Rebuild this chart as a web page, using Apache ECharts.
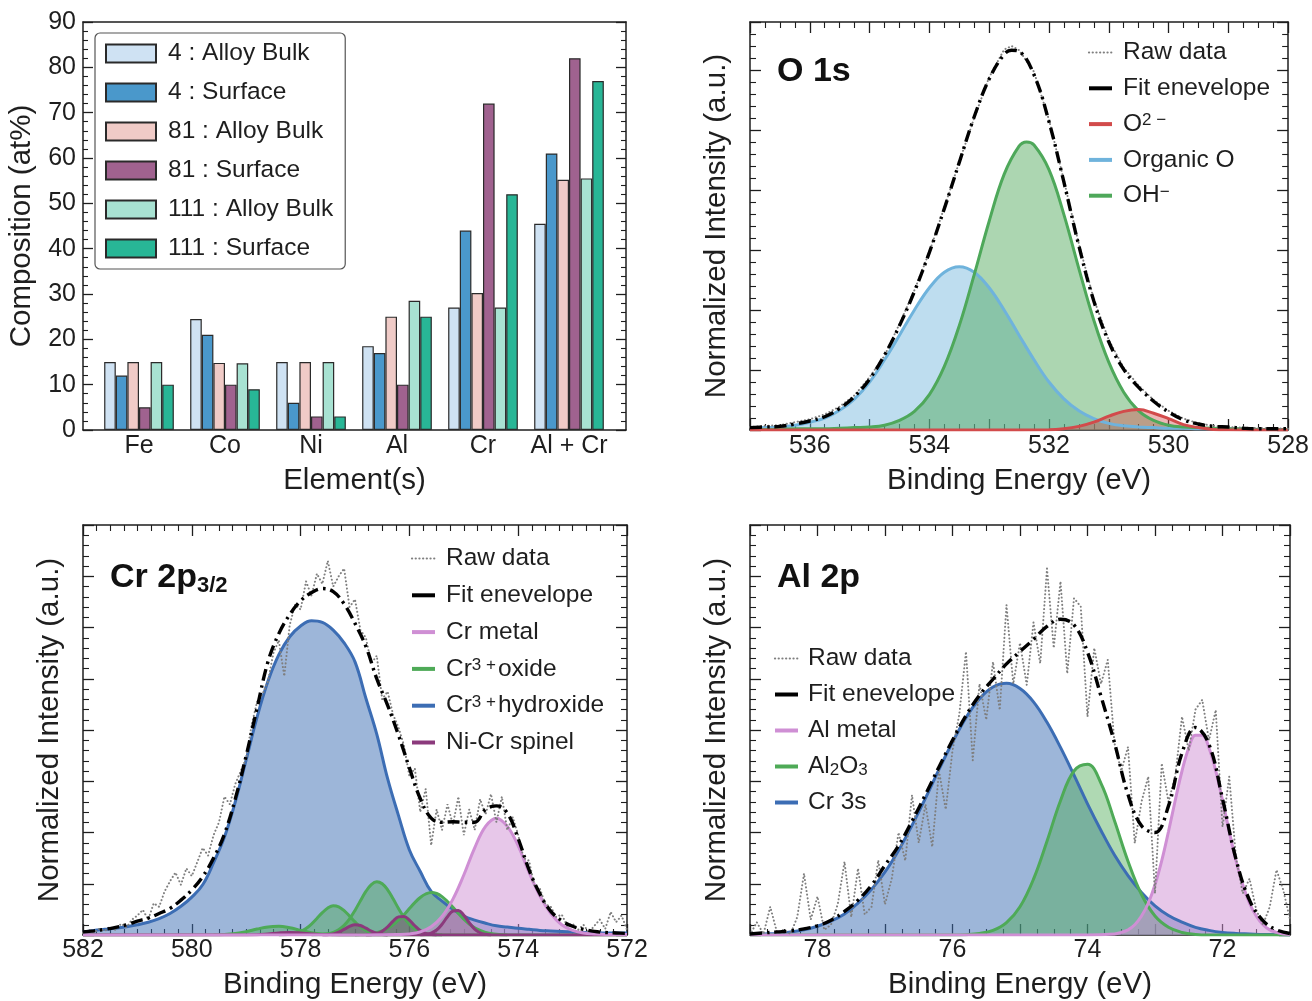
<!DOCTYPE html>
<html><head><meta charset="utf-8">
<script src="https://cdn.jsdelivr.net/npm/echarts@6/dist/echarts.min.js"></script>
<style>html,body{margin:0;padding:0;background:#fff}#c{width:1312px;height:1001px}</style>
</head><body><div id="c"></div>
<script>
// ---------------- DATA ----------------
// Panel (a): composition bars
const categories = ['Fe', 'Co', 'Ni', 'Al', 'Cr', 'Al + Cr'];
const barNames = ['4 : Alloy Bulk', '4 : Surface', '81 : Alloy Bulk', '81 : Surface', '111 : Alloy Bulk', '111 : Surface'];
const bulk4   = [15, 24.5, 15, 18.5, 27, 45.5];
const surf4   = [12, 21, 6, 17, 44, 61];
const bulk81  = [15, 14.8, 15, 25, 30.2, 55.2];
const surf81  = [5, 10, 3, 10, 72, 82];
const bulk111 = [15, 14.7, 15, 28.5, 27, 55.5];
const surf111 = [10, 9, 3, 25, 52, 77];

// Panel (b): O 1s  [binding energy, intensity]
const o1sOrganic = [[537,0.03],[536.75,0.04],[536.5,0.05],[536.25,0.08],[536,0.13],[535.75,0.20],[535.5,0.33],[535.25,0.52],[535,0.80],[534.75,1.17],[534.5,1.58],[534.25,2.00],[534,2.37],[533.75,2.63],[533.5,2.72],[533.25,2.63],[533,2.37],[532.75,2.00],[532.5,1.58],[532.25,1.17],[532,0.80],[531.75,0.52],[531.5,0.32],[531.25,0.19],[531,0.11],[530.75,0.07],[530.5,0.05],[530.25,0.04],[530,0.03],[529.75,0.03],[529.5,0.02],[529.25,0.02],[529,0.02],[528.75,0.01],[528.5,0.01],[528.25,0.01],[528,0.01]];
const o1sOH = [[537,0.01],[536.75,0.01],[536.5,0.01],[536.25,0.02],[536,0.02],[535.75,0.02],[535.5,0.03],[535.25,0.04],[535,0.05],[534.75,0.08],[534.5,0.16],[534.25,0.31],[534,0.59],[533.75,1.06],[533.5,1.74],[533.25,2.59],[533,3.48],[532.75,4.26],[532.5,4.73],[532.375,4.80],[532.25,4.75],[532,4.34],[531.75,3.59],[531.5,2.69],[531.25,1.83],[531,1.13],[530.75,0.63],[530.5,0.32],[530.25,0.16],[530,0.08],[529.75,0.05],[529.5,0.04],[529.25,0.03],[529,0.02],[528.75,0.02],[528.5,0.01],[528.25,0.01],[528,0.01]];
const o1sO2 = [[537,0],[533,0],[532,0.003],[531.75,0.02],[531.5,0.06],[531.25,0.13],[531,0.23],[530.75,0.31],[530.5,0.34],[530.25,0.28],[530,0.19],[529.75,0.09],[529.5,0.04],[529.25,0.01],[529,0.003],[528,0]];
const o1sEnv = [[537,0.04],[536.75,0.05],[536.5,0.06],[536.25,0.10],[536,0.15],[535.75,0.22],[535.5,0.36],[535.25,0.56],[535,0.85],[534.75,1.25],[534.5,1.74],[534.25,2.31],[534,2.96],[533.75,3.69],[533.5,4.46],[533.25,5.22],[533,5.85],[532.75,6.26],[532.625,6.33],[532.5,6.31],[532.25,5.92],[532,5.14],[531.75,4.13],[531.5,3.07],[531.25,2.15],[531,1.47],[530.75,1.01],[530.5,0.71],[530.25,0.48],[530,0.30],[529.75,0.17],[529.5,0.10],[529.25,0.06],[529,0.05],[528.75,0.03],[528.5,0.02],[528.25,0.02],[528,0.02]];
const o1sRaw = [[537,0.05],[536.75,0.07],[536.5,0.08],[536.25,0.13],[536,0.18],[535.75,0.26],[535.5,0.39],[535.25,0.58],[535,0.88],[534.75,1.24],[534.5,1.77],[534.25,2.33],[534,2.97],[533.75,3.71],[533.5,4.47],[533.25,5.20],[533,5.88],[532.75,6.34],[532.625,6.40],[532.5,6.33],[532.25,5.97],[532,5.17],[531.75,4.16],[531.5,3.10],[531.25,2.18],[531,1.50],[530.75,1.04],[530.5,0.74],[530.25,0.50],[530,0.32],[529.75,0.19],[529.5,0.11],[529.25,0.07],[529,0.05],[528.75,0.04],[528.5,0.03],[528.25,0.03],[528,0.02]];

// Panel (c): Cr 2p3/2
const crHydroxide = [[582,0.06],[581.8,0.09],[581.6,0.11],[581.4,0.13],[581.2,0.16],[581,0.20],[580.8,0.25],[580.6,0.32],[580.4,0.42],[580.2,0.56],[580,0.74],[579.8,0.98],[579.6,1.41],[579.4,1.91],[579.2,2.60],[579,3.42],[578.8,4.25],[578.6,4.95],[578.4,5.47],[578.2,5.82],[578,6.03],[577.8,6.13],[577.6,6.10],[577.4,5.95],[577.2,5.70],[577,5.33],[576.8,4.62],[576.6,3.92],[576.4,3.05],[576.2,2.33],[576,1.66],[575.8,1.24],[575.6,0.85],[575.4,0.66],[575.2,0.50],[575,0.37],[574.8,0.29],[574.6,0.23],[574.4,0.18],[574.2,0.155],[574,0.13],[573.8,0.11],[573.6,0.09],[573.4,0.08],[573.2,0.07],[573,0.06],[572.8,0.05],[572.6,0.05],[572.4,0.04],[572.2,0.04],[572,0.04]];
const crMetal = [[582,0],[577,0],[576.2,0.01],[576,0.02],[575.8,0.06],[575.6,0.16],[575.4,0.36],[575.2,0.70],[575,1.17],[574.8,1.70],[574.6,2.12],[574.4,2.28],[574.2,2.12],[574,1.74],[573.8,1.22],[573.6,0.76],[573.4,0.42],[573.2,0.20],[573,0.09],[572.8,0.04],[572.6,0.02],[572.4,0.01],[572,0.01]];
const crOxideA = [[582,0],[580.5,0],[579.6,0.003],[579.4,0.01],[579.2,0.03],[579,0.066],[578.8,0.116],[578.6,0.158],[578.4,0.169],[578.2,0.14],[578,0.09],[577.8,0.045],[577.6,0.018],[577.4,0.005],[577.2,0],[572,0]];
const crOxideB = [[578.4,0],[578.2,0.014],[578.1,0.032],[578,0.067],[577.9,0.127],[577.8,0.214],[577.7,0.323],[577.6,0.436],[577.5,0.526],[577.4,0.57],[577.3,0.55],[577.2,0.476],[577.1,0.369],[577,0.256],[576.9,0.158],[576.8,0.088],[576.7,0.044],[576.6,0.019],[576.5,0.008],[576.4,0]];
const crOxideC = [[577.8,0],[577.6,0.01],[577.5,0.023],[577.4,0.051],[577.3,0.103],[577.2,0.188],[577.1,0.315],[577,0.48],[576.9,0.669],[576.8,0.85],[576.7,0.984],[576.6,1.04],[576.5,1.0],[576.4,0.88],[576.3,0.707],[576.2,0.517],[576.1,0.345],[576,0.21],[575.9,0.117],[575.8,0.059],[575.7,0.027],[575.6,0.011],[575.4,0]];
const crOxideD = [[577,0],[576.8,0.013],[576.7,0.025],[576.6,0.046],[576.5,0.079],[576.4,0.129],[576.3,0.199],[576.2,0.289],[576.1,0.397],[576,0.516],[575.9,0.632],[575.8,0.732],[575.7,0.80],[575.6,0.83],[575.5,0.81],[575.4,0.749],[575.3,0.654],[575.2,0.539],[575.1,0.42],[575,0.31],[574.9,0.215],[574.8,0.141],[574.7,0.088],[574.6,0.051],[574.5,0.029],[574.4,0.015],[574.2,0]];
const crSpinel0 = [[582,0],[579.2,0],[578.8,0.005],[578.6,0.02],[578.4,0.04],[578.2,0.05],[578,0.04],[577.8,0.02],[577.6,0.005],[577.4,0],[572,0]];
const crSpinel1 = [[577.6,0],[577.5,0.007],[577.4,0.022],[577.3,0.056],[577.2,0.109],[577.1,0.167],[577,0.2],[576.9,0.185],[576.8,0.133],[576.7,0.075],[576.6,0.033],[576.5,0.011],[576.4,0]];
const crSpinel2 = [[576.8,0],[576.7,0.007],[576.6,0.026],[576.5,0.073],[576.4,0.159],[576.3,0.269],[576.2,0.354],[576.1,0.363],[576,0.29],[575.9,0.18],[575.8,0.087],[575.7,0.033],[575.6,0.01],[575.5,0]];
const crSpinel3 = [[575.8,0],[575.7,0.01],[575.6,0.035],[575.5,0.097],[575.4,0.21],[575.3,0.356],[575.2,0.468],[575.1,0.48],[575,0.384],[574.9,0.239],[574.8,0.116],[574.7,0.044],[574.6,0.013],[574.5,0]];
const crEnv = [[582,0.06],[581.8,0.08],[581.6,0.11],[581.4,0.15],[581.2,0.20],[581,0.27],[580.8,0.33],[580.6,0.42],[580.4,0.52],[580.2,0.68],[580,0.88],[579.8,1.14],[579.6,1.50],[579.4,1.97],[579.2,2.66],[579,3.50],[578.8,4.43],[578.6,5.33],[578.4,5.88],[578.2,6.25],[578,6.52],[577.8,6.68],[577.6,6.76],[577.4,6.70],[577.2,6.46],[577,6.08],[576.8,5.63],[576.6,5.00],[576.4,4.48],[576.2,3.90],[576,3.26],[575.8,2.66],[575.6,2.28],[575.4,2.20],[575.2,2.21],[575,2.20],[574.8,2.20],[574.6,2.45],[574.4,2.52],[574.2,2.38],[574,1.88],[573.8,1.27],[573.6,0.80],[573.4,0.46],[573.2,0.28],[573,0.17],[572.8,0.11],[572.6,0.07],[572.4,0.05],[572.2,0.04],[572,0.03]];
const crRaw = [[582,0.04],[581.9,0.10],[581.8,0.05],[581.7,0.12],[581.6,0.08],[581.5,0.16],[581.4,0.10],[581.3,0.22],[581.2,0.15],[581.1,0.30],[581,0.38],[580.9,0.49],[580.8,0.30],[580.7,0.62],[580.6,0.55],[580.5,0.85],[580.4,1.05],[580.3,1.22],[580.2,0.98],[580.1,1.30],[580,1.15],[579.9,1.42],[579.8,1.70],[579.7,1.55],[579.6,1.95],[579.5,2.20],[579.4,2.70],[579.3,2.55],[579.2,2.95],[579.1,3.20],[579,3.45],[578.9,4.10],[578.8,4.55],[578.7,4.70],[578.6,4.95],[578.5,5.50],[578.4,5.75],[578.3,5.05],[578.2,6.05],[578.1,6.45],[578,6.35],[577.9,6.90],[577.8,6.62],[577.7,7.05],[577.6,6.85],[577.5,7.30],[577.4,6.80],[577.3,7.00],[577.2,7.15],[577.1,6.40],[577,6.55],[576.9,5.95],[576.8,5.80],[576.7,5.30],[576.6,5.45],[576.5,4.60],[576.4,4.75],[576.3,4.30],[576.2,4.05],[576.1,3.70],[576,3.10],[575.9,3.25],[575.8,2.40],[575.7,2.85],[575.6,1.75],[575.5,2.45],[575.4,2.05],[575.3,2.55],[575.2,2.15],[575.1,2.70],[575,1.95],[574.9,2.45],[574.8,2.05],[574.7,2.65],[574.6,2.35],[574.5,2.75],[574.4,2.20],[574.3,2.70],[574.2,2.05],[574.1,2.30],[574,1.95],[573.9,1.50],[573.8,1.45],[573.7,0.95],[573.6,0.90],[573.5,0.60],[573.4,0.55],[573.3,0.35],[573.2,0.40],[573.1,0.18],[573,0.22],[572.9,0.10],[572.8,0.20],[572.7,0.05],[572.6,0.18],[572.5,0.30],[572.4,0.12],[572.3,0.45],[572.2,0.25],[572.1,0.38],[572,0.10]];

// Panel (d): Al 2p
const alCr3s = [[79,0.01],[78.8,0.02],[78.6,0.03],[78.4,0.06],[78.2,0.10],[78,0.17],[77.8,0.27],[77.6,0.41],[77.4,0.62],[77.2,0.89],[77,1.23],[76.8,1.65],[76.6,2.14],[76.4,2.67],[76.2,3.23],[76,3.76],[75.8,4.24],[75.6,4.61],[75.4,4.84],[75.2,4.91],[75,4.81],[74.8,4.55],[74.6,4.15],[74.4,3.66],[74.2,3.12],[74,2.56],[73.8,2.04],[73.6,1.56],[73.4,1.16],[73.2,0.83],[73,0.57],[72.8,0.38],[72.6,0.25],[72.4,0.15],[72.2,0.09],[72,0.05],[71.8,0.03],[71.6,0.02],[71.4,0.01],[71.2,0.01],[71,0]];
const alOxide = [[79,0],[76,0],[75.8,0.007],[75.6,0.03],[75.4,0.09],[75.2,0.24],[75,0.55],[74.8,1.09],[74.6,1.83],[74.4,2.62],[74.2,3.20],[74,3.33],[73.8,2.96],[73.6,2.23],[73.4,1.44],[73.2,0.79],[73,0.37],[72.8,0.15],[72.6,0.05],[72.4,0.01],[72.2,0],[71,0]];
const alMetal = [[79,0],[74,0],[73.6,0.02],[73.5,0.05],[73.4,0.10],[73.3,0.20],[73.2,0.37],[73.1,0.62],[73,0.98],[72.9,1.45],[72.8,2.02],[72.7,2.63],[72.6,3.20],[72.5,3.65],[72.4,3.90],[72.3,3.90],[72.2,3.65],[72.1,3.20],[72,2.63],[71.9,2.02],[71.8,1.45],[71.7,0.98],[71.6,0.62],[71.5,0.37],[71.4,0.20],[71.3,0.10],[71.2,0.05],[71.1,0.02],[71,0.01]];
const alEnv = [[79,0.02],[78.8,0.04],[78.6,0.06],[78.4,0.08],[78.2,0.12],[78,0.18],[77.8,0.29],[77.6,0.46],[77.4,0.68],[77.2,0.97],[77,1.36],[76.8,1.74],[76.6,2.22],[76.4,2.74],[76.2,3.28],[76,3.80],[75.8,4.28],[75.6,4.68],[75.4,4.99],[75.2,5.29],[75,5.53],[74.8,5.77],[74.6,6.02],[74.4,6.16],[74.2,6.05],[74,5.52],[73.8,4.66],[73.6,3.75],[73.4,2.74],[73.2,2.13],[73,2.00],[72.8,2.52],[72.6,3.55],[72.4,4.05],[72.2,3.72],[72,2.66],[71.8,1.48],[71.6,0.68],[71.4,0.28],[71.2,0.10],[71,0.03]];
const alRaw = [[79,0],[78.9,0.25],[78.8,0.02],[78.7,0.55],[78.6,0.05],[78.5,0.10],[78.4,0.02],[78.3,0.35],[78.2,1.20],[78.1,0.30],[78,0.75],[77.9,0.10],[77.8,0.20],[77.7,0.60],[77.6,1.43],[77.5,0.35],[77.4,1.30],[77.3,0.40],[77.2,0.55],[77.1,1.46],[77,0.60],[76.9,1.10],[76.8,2.00],[76.7,1.45],[76.6,2.73],[76.5,1.80],[76.4,2.55],[76.3,1.72],[76.2,3.20],[76.1,2.45],[76,3.60],[75.9,4.30],[75.8,5.53],[75.7,3.41],[75.6,4.90],[75.5,4.20],[75.4,5.33],[75.3,4.39],[75.2,6.44],[75.1,4.90],[75,5.70],[74.9,4.88],[74.8,6.10],[74.7,5.30],[74.6,7.15],[74.5,5.60],[74.4,6.90],[74.3,5.10],[74.2,6.57],[74.1,6.41],[74,4.26],[73.9,5.60],[73.8,4.90],[73.7,5.37],[73.6,3.74],[73.5,3.20],[73.4,3.67],[73.3,1.79],[73.2,2.60],[73.1,3.09],[73,0.81],[72.9,3.35],[72.8,2.60],[72.7,3.10],[72.6,4.26],[72.5,3.60],[72.4,4.40],[72.3,4.59],[72.2,3.80],[72.1,4.39],[72,2.11],[71.9,3.09],[71.8,1.50],[71.7,0.81],[71.6,1.10],[71.5,0.49],[71.4,0.20],[71.3,0.55],[71.2,1.27],[71.1,0.88],[71,0.30]];

// ---------------- STYLE HELPERS ----------------
const FONT = '"Liberation Sans", Arial, Helvetica, sans-serif';
const INK = '#1e1e1e';
const TICK_FS = 25, NAME_FS = 29.5, LEG_FS = 24.5;
function merge(a, b) {
  const out = Object.assign({}, a);
  for (const k in b) {
    if (b[k] && typeof b[k] === 'object' && !Array.isArray(b[k]) && a && a[k] && typeof a[k] === 'object') out[k] = merge(a[k], b[k]);
    else out[k] = b[k];
  }
  return out;
}
const baseAxis = {
  type: 'value',
  splitLine: { show: false },
  axisLine: { show: true, onZero: false, lineStyle: { color: INK, width: 1.5 } },
  axisTick: { show: true, inside: true, length: 11, lineStyle: { color: INK, width: 1.3 } },
  minorTick: { show: true, splitNumber: 4, length: 6, lineStyle: { color: INK, width: 1.1 } },
  axisLabel: { show: false, color: INK, fontSize: TICK_FS, fontFamily: FONT },
  nameTextStyle: { color: INK, fontSize: NAME_FS, fontFamily: FONT }
};
const ax = o => merge(baseAxis, o);
const evenOnly = v => (Math.abs(v - Math.round(v)) < 1e-6 && Math.round(v) % 2 === 0 ? String(Math.round(v)) : '');
const beName = 'Binding Energy (eV)';
const niName = 'Normalized Intensity (a.u.)';

function comp(name, data, idx, color, alpha) {
  return { type: 'line', name, data, xAxisIndex: idx, yAxisIndex: idx, symbol: 'none', smooth: 0.4,
    lineStyle: { color, width: 3 }, itemStyle: { color },
    areaStyle: { color, opacity: alpha }, silent: true };
}
function raw(data, idx) {
  return { type: 'line', name: 'Raw data', data, xAxisIndex: idx, yAxisIndex: idx, symbol: 'none',
    lineStyle: { color: '#7f7f7f', width: 2, type: [0.1, 3.6], cap: 'round' }, itemStyle: { color: '#7f7f7f' }, silent: true };
}
function env(data, idx) {
  return { type: 'line', name: 'Fit enevelope', data, xAxisIndex: idx, yAxisIndex: idx, symbol: 'none', smooth: 0.4,
    lineStyle: { color: '#000', width: 3.4, type: [12, 5, 2.5, 5] }, itemStyle: { color: '#000' }, silent: true };
}
const legendRich = {
  'O²⁻': 'O{sup|2 −}', 'OH⁻': 'OH{sup|−}',
  'Cr³⁺ oxide': 'Cr{sup|3 +}oxide', 'Cr³⁺ hydroxide': 'Cr{sup|3 +}hydroxide',
  'Al₂O₃': 'Al{sub|2}O{sub|3}'
};
function xpsLegend(names, left, top, gap, pad) {
  return {
    orient: 'vertical', left, top, itemGap: gap, itemWidth: 23, itemHeight: 14, padding: 0,
    selectedMode: false, itemStyle: { opacity: 0 },
    formatter: n => legendRich[n] || n,
    textStyle: { fontSize: LEG_FS, fontFamily: FONT, color: INK, lineHeight: LEG_FS, padding: [0, 0, 0, pad],
      rich: {
        sup: { fontSize: 17, lineHeight: 10, verticalAlign: 'top', fontFamily: FONT, color: INK, padding: [0, 2, 0, 0] },
        sub: { fontSize: 17, lineHeight: 14, verticalAlign: 'bottom', fontFamily: FONT, color: INK }
      } },
    data: names.map(n => n === 'Raw data' ? { name: n, lineStyle: { width: 2.2 } }
      : n === 'Fit enevelope' ? { name: n, lineStyle: { type: 'solid', width: 4 } }
      : { name: n, lineStyle: { width: 4 } })
  };
}

const barColors = ['#cfe2f3', '#4a98cb', '#f0cbc7', '#a0628f', '#a8e2d2', '#28b696'];
const barData = [bulk4, surf4, bulk81, surf81, bulk111, surf111];
const titleStyle = fs => ({ fontSize: fs, fontWeight: 'bold', fontFamily: FONT, color: '#111' });

const option = {
  animation: false,
  textStyle: { fontFamily: FONT },
  grid: [
    { left: 83, top: 22, width: 543, height: 408 },
    { left: 96, top: 22, width: 516, height: 408 },
    { left: 750, top: 22, width: 540, height: 408 },
    { left: 83, top: 525, width: 544, height: 410 },
    { left: 750, top: 525, width: 540, height: 410 }
  ],
  title: [
    { text: 'O 1s', left: 777, top: 55, padding: 0, textStyle: titleStyle(34) },
    { text: 'Cr 2p', left: 110, top: 561, padding: 0, textStyle: titleStyle(34) },
    { text: '3/2', left: 197, top: 575, padding: 0, textStyle: titleStyle(22) },
    { text: 'Al 2p', left: 777, top: 561, padding: 0, textStyle: titleStyle(34) }
  ],
  xAxis: [
    ax({ gridIndex: 0, position: 'bottom', min: 0, max: 1, axisTick: { show: false }, minorTick: { show: false },
      name: 'Element(s)', nameLocation: 'middle', nameGap: 36 }),
    ax({ gridIndex: 0, position: 'top', min: 0, max: 1, axisTick: { show: false }, minorTick: { show: false } }),
    { type: 'category', gridIndex: 1, position: 'bottom', data: categories,
      axisLine: { show: false }, axisTick: { show: false }, splitLine: { show: false },
      axisLabel: { show: true, color: INK, fontSize: TICK_FS, fontFamily: FONT, margin: 4, interval: 0 } },
    ax({ gridIndex: 2, position: 'bottom', min: 528, max: 537, interval: 1, inverse: true,
      axisLabel: { show: true, margin: 4, formatter: evenOnly }, name: beName, nameLocation: 'middle', nameGap: 36 }),
    ax({ gridIndex: 2, position: 'top', min: 528, max: 537, interval: 1, inverse: true }),
    ax({ gridIndex: 3, position: 'bottom', min: 572, max: 582, interval: 2, inverse: true, minorTick: { splitNumber: 8 },
      axisLabel: { show: true, margin: 3 }, name: beName, nameLocation: 'middle', nameGap: 35 }),
    ax({ gridIndex: 3, position: 'top', min: 572, max: 582, interval: 2, inverse: true, minorTick: { splitNumber: 8 } }),
    ax({ gridIndex: 4, position: 'bottom', min: 71, max: 79, interval: 1, inverse: true,
      axisLabel: { show: true, margin: 3, formatter: evenOnly }, name: beName, nameLocation: 'middle', nameGap: 35 }),
    ax({ gridIndex: 4, position: 'top', min: 71, max: 79, interval: 1, inverse: true })
  ],
  yAxis: [
    ax({ gridIndex: 0, position: 'left', min: 0, max: 90, interval: 10, axisTick: { length: 10 }, minorTick: { splitNumber: 5, length: 5 },
      axisLabel: { show: true, margin: 7 }, name: 'Composition (at%)', nameLocation: 'middle', nameGap: 46 }),
    ax({ gridIndex: 0, position: 'right', min: 0, max: 90, interval: 10, axisTick: { length: 10 }, minorTick: { splitNumber: 5, length: 5 } }),
    { type: 'value', gridIndex: 1, min: 0, max: 90, show: false },
    ax({ gridIndex: 2, position: 'left', min: 0, max: 6.8, interval: 1, minorTick: { splitNumber: 5 },
      name: niName, nameLocation: 'middle', nameGap: 18 }),
    ax({ gridIndex: 2, position: 'right', min: 0, max: 6.8, interval: 1, minorTick: { splitNumber: 5 } }),
    ax({ gridIndex: 3, position: 'left', min: 0, max: 8, interval: 1, minorTick: { splitNumber: 5 },
      name: niName, nameLocation: 'middle', nameGap: 18 }),
    ax({ gridIndex: 3, position: 'right', min: 0, max: 8, interval: 1, minorTick: { splitNumber: 5 } }),
    ax({ gridIndex: 4, position: 'left', min: 0, max: 8, interval: 1, minorTick: { splitNumber: 5 },
      name: niName, nameLocation: 'middle', nameGap: 18 }),
    ax({ gridIndex: 4, position: 'right', min: 0, max: 8, interval: 1, minorTick: { splitNumber: 5 } })
  ],
  legend: [
    { orient: 'vertical', left: 95, top: 33, padding: [8, 12, 8, 10], itemGap: 14, itemWidth: 50, itemHeight: 18,
      icon: 'rect', selectedMode: false, backgroundColor: '#fff', borderColor: '#555', borderWidth: 1.2, borderRadius: 5,
      textStyle: { fontSize: LEG_FS, fontFamily: FONT, color: INK, lineHeight: 25, padding: [0, 0, 0, 7] },
      data: barNames },
    xpsLegend(['Raw data', 'Fit enevelope', 'O²⁻', 'Organic O', 'OH⁻'], 1087, 40, 10.8, 6),
    xpsLegend(['Raw data', 'Fit enevelope', 'Cr metal', 'Cr³⁺ oxide', 'Cr³⁺ hydroxide', 'Ni-Cr spinel'], 410, 546, 11.8, 6),
    xpsLegend(['Raw data', 'Fit enevelope', 'Al metal', 'Al₂O₃', 'Cr 3s'], 773, 646, 11, 5)
  ],
  series: [
    ...barNames.map((n, i) => ({
      type: 'bar', name: n, data: barData[i], xAxisIndex: 2, yAxisIndex: 2,
      barGap: '0%', barCategoryGap: '19%',
      itemStyle: { color: barColors[i], borderColor: '#2a2a2a', borderWidth: 1.2 }, silent: true
    })),
    // O 1s
    comp('Organic O', o1sOrganic, 3, '#6fb3dc', 0.45),
    comp('OH⁻', o1sOH, 3, '#4ea85a', 0.47),
    comp('O²⁻', o1sO2, 3, '#d24b4b', 0.4),
    raw(o1sRaw, 3),
    env(o1sEnv, 3),
    // Cr 2p3/2
    comp('Cr³⁺ hydroxide', crHydroxide, 5, '#3c6db4', 0.5),
    comp('Cr³⁺ oxide', crOxideA, 5, '#4eaa57', 0.45),
    comp('Cr³⁺ oxide', crOxideB, 5, '#4eaa57', 0.45),
    comp('Cr³⁺ oxide', crOxideC, 5, '#4eaa57', 0.45),
    comp('Cr³⁺ oxide', crOxideD, 5, '#4eaa57', 0.45),
    comp('Ni-Cr spinel', crSpinel0, 5, '#8b3a7c', 0.4),
    comp('Ni-Cr spinel', crSpinel1, 5, '#8b3a7c', 0.4),
    comp('Ni-Cr spinel', crSpinel2, 5, '#8b3a7c', 0.4),
    comp('Ni-Cr spinel', crSpinel3, 5, '#8b3a7c', 0.4),
    comp('Cr metal', crMetal, 5, '#cf8fd4', 0.5),
    raw(crRaw, 5),
    env(crEnv, 5),
    // Al 2p
    comp('Cr 3s', alCr3s, 7, '#3c6db4', 0.5),
    comp('Al₂O₃', alOxide, 7, '#4eaa57', 0.45),
    comp('Al metal', alMetal, 7, '#cf8fd4', 0.5),
    raw(alRaw, 7),
    env(alEnv, 7)
  ]
};
const chart = echarts.init(document.getElementById('c'), null, { renderer: 'canvas' });
chart.setOption(option);
</script>
</body></html>
